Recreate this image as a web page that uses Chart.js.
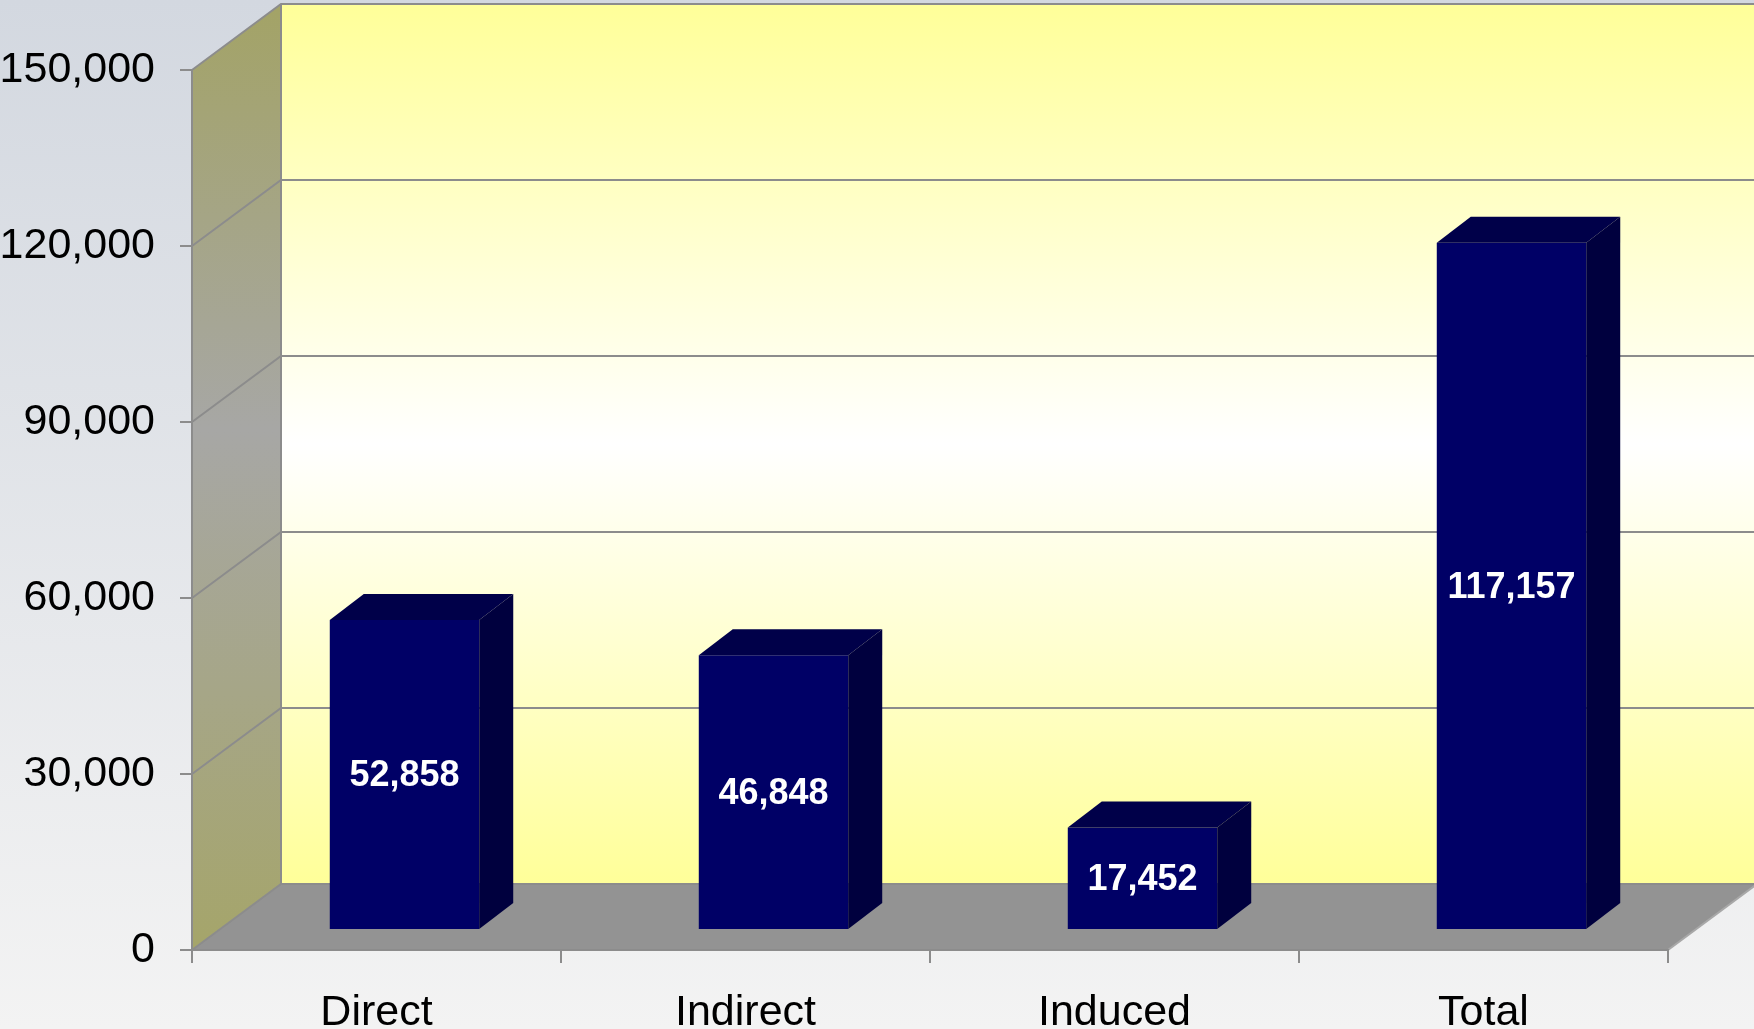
<!DOCTYPE html>
<html>
<head>
<meta charset="utf-8">
<script src="https://cdn.jsdelivr.net/npm/chart.js@4.4.1/dist/chart.umd.min.js"></script>
<style>
html, body { margin: 0; padding: 0; overflow: hidden; background: #e8e8e8; }
canvas { display: block; }
</style>
</head>
<body>
<canvas id="chart" width="1754" height="1029"></canvas>
<script>
// ---- data ----
const categories = ['Direct', 'Indirect', 'Induced', 'Total'];
const jobs = [52858, 46848, 17452, 117157];
const yTickValues = [0, 30000, 60000, 90000, 120000, 150000];
const yMin = 0;
const yMax = 150000;

// ---- style (3D look) ----
const FONT = '"Liberation Sans", Arial, Helvetica, sans-serif';
const WALL_DEPTH = { dx: 89, dy: -66 };
const BAR_SHIFT = { dx: 28, dy: -20 };
const BAR_DEPTH = { dx: 34, dy: -26 };
const GRID_COLOR = '#8c8c8c';

const fmt = v => Number(v).toLocaleString('en-US');

function poly(ctx, pts, fill) {
  ctx.beginPath();
  ctx.moveTo(pts[0][0], pts[0][1]);
  for (let i = 1; i < pts.length; i++) ctx.lineTo(pts[i][0], pts[i][1]);
  ctx.closePath();
  ctx.fillStyle = fill;
  ctx.fill();
}

const threeD = {
  id: 'threeD',
  beforeDraw(chart) {
    const { ctx, chartArea: a, scales } = chart;
    const y = scales.y;
    const W = chart.width, H = chart.height;
    const L = a.left, R = a.right, T = a.top, B = a.bottom;
    const dx = WALL_DEPTH.dx, dy = WALL_DEPTH.dy;
    ctx.save();
    // page background
    let g = ctx.createLinearGradient(0, 0, 0, H);
    g.addColorStop(0, '#d3d8e0');
    g.addColorStop(1, '#f3f3f3');
    ctx.fillStyle = g;
    ctx.fillRect(0, 0, W, H);
    // back wall
    g = ctx.createLinearGradient(0, T + dy, 0, B + dy);
    g.addColorStop(0, '#ffff99');
    g.addColorStop(0.5, '#ffffff');
    g.addColorStop(1, '#ffff99');
    ctx.fillStyle = g;
    ctx.fillRect(L + dx, T + dy, (R - L) + 10, B - T);
    // side wall
    g = ctx.createLinearGradient(0, T + dy, 0, B);
    g.addColorStop(0, '#a3a366');
    g.addColorStop(0.45, '#a7a7a5');
    g.addColorStop(1, '#a5a56a');
    poly(ctx, [[L, T], [L + dx, T + dy], [L + dx, B + dy], [L, B]], g);
    // floor
    poly(ctx, [[L, B], [R, B], [R + dx, B + dy], [L + dx, B + dy]], '#939393');
    // grid lines on side wall + back wall
    ctx.strokeStyle = GRID_COLOR;
    ctx.lineWidth = 2;
    y.ticks.forEach(t => {
      const py = y.getPixelForValue(t.value);
      ctx.beginPath();
      ctx.moveTo(L, py);
      ctx.lineTo(L + dx, py + dy);
      ctx.lineTo(W + 20, py + dy);
      ctx.stroke();
    });
    // back-wall left edge
    ctx.beginPath();
    ctx.moveTo(L + dx, T + dy);
    ctx.lineTo(L + dx, B + dy);
    ctx.stroke();
    // floor right edge
    ctx.strokeStyle = '#a8a8a8';
    ctx.beginPath();
    ctx.moveTo(R, B);
    ctx.lineTo(R + dx, B + dy);
    ctx.stroke();
    ctx.restore();
  },
  beforeDatasetsDraw(chart) {
    chart.ctx.save();
    chart.ctx.translate(BAR_SHIFT.dx, BAR_SHIFT.dy);
  },
  afterDatasetsDraw(chart) {
    const ctx = chart.ctx;
    ctx.restore();
    const meta = chart.getDatasetMeta(0);
    const values = chart.data.datasets[0].data;
    ctx.save();
    meta.data.forEach((el, i) => {
      const p = el.getProps(['x', 'y', 'base', 'width'], true);
      const l = p.x - p.width / 2 + BAR_SHIFT.dx;
      const r = p.x + p.width / 2 + BAR_SHIFT.dx;
      const t = p.y + BAR_SHIFT.dy;
      const b = p.base + BAR_SHIFT.dy;
      const bdx = BAR_DEPTH.dx, bdy = BAR_DEPTH.dy;
      // top face
      poly(ctx, [[l, t], [r, t], [r + bdx, t + bdy], [l + bdx, t + bdy]], '#000049');
      // side face
      poly(ctx, [[r, t], [r + bdx, t + bdy], [r + bdx, b + bdy], [r, b]], '#00003e');
      // value label
      ctx.fillStyle = '#ffffff';
      ctx.font = 'bold 36px ' + FONT;
      ctx.textAlign = 'center';
      ctx.textBaseline = 'middle';
      ctx.fillText(fmt(values[i]), (l + r) / 2, (t + b) / 2 + 2);
    });
    ctx.restore();
  }
};

new Chart(document.getElementById('chart'), {
  type: 'bar',
  data: {
    labels: categories,
    datasets: [{
      label: 'Jobs',
      data: jobs,
      backgroundColor: '#000066',
      borderWidth: 0,
      categoryPercentage: 1.0,
      barPercentage: 0.405,
      clip: false
    }]
  },
  options: {
    responsive: false,
    devicePixelRatio: 1,
    animation: false,
    layout: { padding: { top: 70, right: 86, left: 0, bottom: 0 } },
    plugins: {
      legend: { display: false },
      tooltip: { enabled: false },
      title: { display: false }
    },
    scales: {
      y: {
        min: yMin,
        max: yMax,
        afterBuildTicks: s => { s.ticks = yTickValues.map(v => ({ value: v })); },
        afterFit: s => { s.width = 192; },
        ticks: {
          callback: v => fmt(v),
          color: '#000000',
          padding: 25,
          font: { family: FONT, size: 43 }
        },
        grid: {
          drawOnChartArea: false,
          tickLength: 12,
          color: GRID_COLOR,
          lineWidth: 2
        },
        border: { display: true, color: GRID_COLOR, width: 2 }
      },
      x: {
        afterFit: s => { s.height = 79; },
        ticks: {
          color: '#000000',
          padding: 24,
          maxRotation: 0,
          font: { family: FONT, size: 43 }
        },
        grid: {
          offset: true,
          drawOnChartArea: false,
          tickLength: 13,
          color: GRID_COLOR,
          lineWidth: 2
        },
        border: { display: true, color: GRID_COLOR, width: 2 }
      }
    }
  },
  plugins: [threeD]
});
</script>
</body>
</html>
